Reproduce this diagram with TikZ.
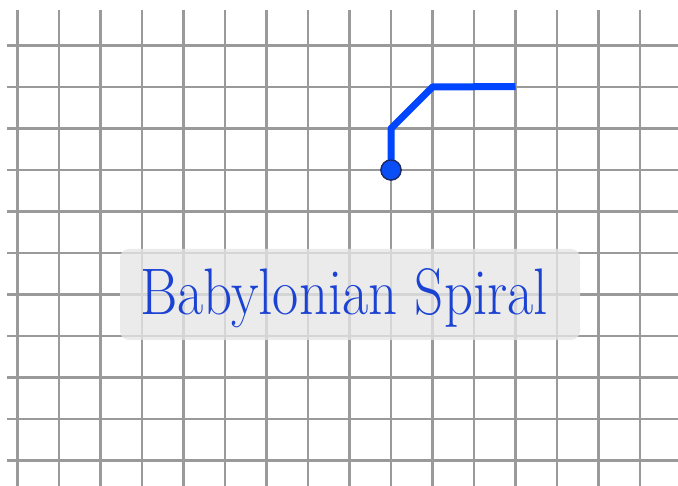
\documentclass[tikz,border=0pt]{standalone}
\usepackage{graphicx}
\definecolor{gridgray}{HTML}{9A9A9A}
\definecolor{pathblue}{HTML}{0046FF}
\definecolor{dotblue}{HTML}{0A4EF5}
\definecolor{dotedge}{HTML}{1C2A66}
\definecolor{boxgray}{HTML}{E6E6E6}
\definecolor{titleblue}{HTML}{1B42D2}
\begin{document}
\begin{tikzpicture}[x=1pt,y=-1pt,
  gridline/.style={draw=gridgray,line width=2.6pt},
  spiral/.style={draw=pathblue,line width=7pt,line join=round},
  dotnode/.style={circle,fill=dotblue,draw=dotedge,line width=1.3pt,minimum size=20pt,inner sep=0pt},
  labelbox/.style={fill=boxgray,fill opacity=0.78,rounded corners=9pt,minimum width=460pt,minimum height=91pt,inner sep=0pt},
  titletext/.style={text=titleblue,inner sep=0pt,anchor=base}]
\useasboundingbox (0,0) rectangle (678,486);
\fill[white] (0,0) rectangle (678,486);
% grid
\foreach \i in {0,...,15}
  \draw[gridline] (17.5+41.5*\i,10) -- (17.5+41.5*\i,486);
\foreach \j in {0,...,10}
  \draw[gridline] (7,45.5+41.5*\j) -- (678,45.5+41.5*\j);
% spiral path
\coordinate (p1) at (391,128.5);
\coordinate (p2) at (432.5,87);
\coordinate (p3) at (515.5,86.5);
\node[dotnode] (start) at (391,170) {};
\draw[spiral] (start.center) -- (p1) -- (p2) -- (p3);
\node[dotnode] at (start) {};
% label
\node[labelbox] (box) at (350,294.5) {};
\node[titletext] (title) at (344,315) {\resizebox{408pt}{46pt}{\fontsize{60}{60}\selectfont Babylonian Spiral}};
\end{tikzpicture}
\end{document}
